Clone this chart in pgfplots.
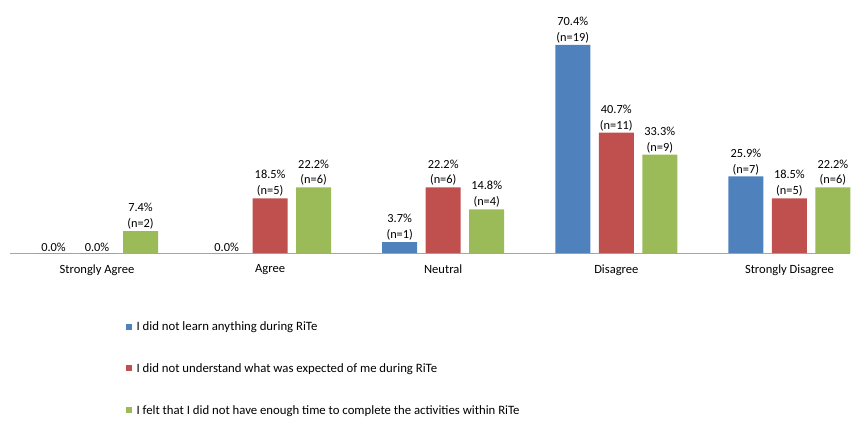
\documentclass[border=0pt]{standalone}
\usepackage{pgfplots}
\pgfplotsset{compat=1.18}
\usepackage{fontspec}
\setmainfont{Carlito}
\definecolor{sblue}{HTML}{4F81BD}
\definecolor{sred}{HTML}{C0504D}
\definecolor{sgreen}{HTML}{9BBB59}
\begin{document}
\begin{tikzpicture}[x=1bp,y=1bp]
\path[use as bounding box] (0,0) rectangle (864,422);
\begin{axis}[
    at={(10bp,169bp)}, anchor=south west,
    scale only axis, width=840bp, height=253bp,
    ybar=8.5bp, bar width=35bp,
    xmin=-0.5026, xmax=4.350, ymin=0, ymax=85.6,
    axis x line=bottom, axis y line=none,
    axis line style={draw=gray!70, -},
    xtick=data, major tick length=0pt,
    xticklabels={Strongly Agree, Agree, Neutral, Disagree, Strongly Disagree},
    xticklabel style={font=\fontsize{12.6}{14}\selectfont, yshift=-8bp},
    point meta=explicit symbolic,
    nodes near coords,
    every node near coord/.append style={font=\fontsize{12.4}{16}\selectfont, align=center, inner sep=1.5bp},
    legend cell align=left,
    legend style={at={(0.138,-0.262)}, anchor=north west, draw=none, fill=none,
        font=\fontsize{12.8}{14}\selectfont, row sep=27.5bp, inner sep=0pt,
        nodes={inner xsep=4.5bp}},
    legend image code/.code={\fill[#1] (0bp,-3bp) rectangle (6bp,3bp);},
    clip=false,
]
\addplot[fill=sblue, draw=none] coordinates {
    (0,0) [0.0\%]
    (1,0) [0.0\%]
    (2,3.7) [{3.7\%\\(n=1)}]
    (3,70.4) [{70.4\%\\(n=19)}]
    (4,25.9) [{25.9\%\\(n=7)}]
};
\addplot[fill=sred, draw=none] coordinates {
    (0,0) [0.0\%]
    (1,18.5) [{18.5\%\\(n=5)}]
    (2,22.2) [{22.2\%\\(n=6)}]
    (3,40.7) [{40.7\%\\(n=11)}]
    (4,18.5) [{18.5\%\\(n=5)}]
};
\addplot[fill=sgreen, draw=none] coordinates {
    (0,7.4) [{7.4\%\\(n=2)}]
    (1,22.2) [{22.2\%\\(n=6)}]
    (2,14.8) [{14.8\%\\(n=4)}]
    (3,33.3) [{33.3\%\\(n=9)}]
    (4,22.2) [{22.2\%\\(n=6)}]
};
\legend{I did not learn anything during RiTe,
    I did not understand what was expected of me during RiTe,
    I felt that I did not have enough time to complete the activities within RiTe}
\end{axis}
\end{tikzpicture}
\end{document}
